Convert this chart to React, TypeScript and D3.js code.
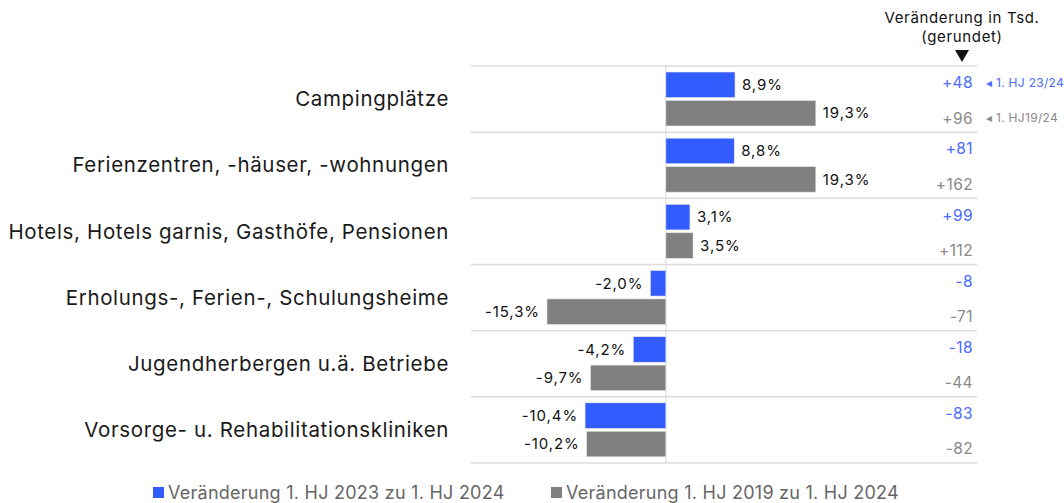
import React from "react";
import * as d3 from "d3";

const categories = [
  "Campingplätze",
  "Ferienzentren, -häuser, -wohnungen",
  "Hotels, Hotels garnis, Gasthöfe, Pensionen",
  "Erholungs-, Ferien-, Schulungsheime",
  "Jugendherbergen u.ä. Betriebe",
  "Vorsorge- u. Rehabilitationskliniken",
];
const pct2324 = [8.9, 8.8, 3.1, -2.0, -4.2, -10.4];
const pct1924 = [19.3, 19.3, 3.5, -15.3, -9.7, -10.2];
const abs2324 = ["+48", "+81", "+99", "-8", "-18", "-83"];
const abs1924 = ["+96", "+162", "+112", "-71", "-44", "-82"];
const seriesKeys = ["2324", "1924"];
const seriesNames = ["Veränderung 1. HJ 2023 zu 1. HJ 2024", "Veränderung 1. HJ 2019 zu 1. HJ 2024"];
const seriesTags = ["1. HJ 23/24", "1. HJ19/24"];

const BLUE = "#335cff";
const GREY = "#808080";
const FONT = "Inter, 'Noto Sans', sans-serif";

export default function App() {
  const W = 1064, H = 503;
  const x = d3.scaleLinear().domain([-25, 40]).range([471.6, 976.7]);
  const y = d3.scaleBand<string>().domain(categories).range([66, 463]).padding(0);
  const sub = d3.scaleBand<string>().domain(seriesKeys).range([6, 60]).paddingInner(0.1);
  const fmt = (v: number) => d3.format(".1f")(v).replace(".", ",").replace("\u2212", "-") + "%";
  const colors = [BLUE, GREY];
  const pcts = [pct2324, pct1924];
  const abss = [abs2324, abs1924];

  return (
    <svg width={W} height={H} style={{ position: "absolute", left: 0, top: 0, fontFamily: FONT }}>
      {/* header */}
      <text x={962} y={18} dy="0.35em" textAnchor="middle" fontSize={15} letterSpacing={0.65} fill="#111">Veränderung in Tsd.</text>
      <text x={962} y={37} dy="0.35em" textAnchor="middle" fontSize={15} letterSpacing={0.65} fill="#111">(gerundet)</text>
      <path d="M955,50 L969,50 L962,62 Z" fill="#111" />

      {/* grid lines */}
      {y.domain().concat(["__end"]).map((c, i) => {
        const yy = i < categories.length ? (y(c) as number) : 463;
        return <line key={"g" + i} x1={471} x2={977} y1={yy} y2={yy} stroke="#dcdcdc" strokeWidth={1.5} />;
      })}
      <line x1={x(0)} x2={x(0)} y1={66} y2={463} stroke="#d6d6d6" strokeWidth={1} />

      {categories.map((c, i) => {
        const y0 = y(c) as number;
        return (
          <g key={c}>
            <text x={449} y={y0 + y.bandwidth() / 2} dy="0.35em" textAnchor="end" fontSize={20.5} letterSpacing={0.65} fill="#1a1a1a">{c}</text>
            {seriesKeys.map((k, s) => {
              const v = pcts[s][i];
              const by = y0 + (sub(k) as number);
              const bh = sub.bandwidth();
              const x0 = x(Math.min(0, v));
              const x1 = x(Math.max(0, v));
              return (
                <g key={k}>
                  <rect x={x0} y={by} width={x1 - x0} height={bh} fill={colors[s]} stroke="#e8e8e8" strokeWidth={0.6} />
                  <text
                    x={v >= 0 ? x1 + 7 : x0 - 7}
                    y={by + bh / 2}
                    dy="0.35em"
                    textAnchor={v >= 0 ? "start" : "end"}
                    fontSize={15}
                    letterSpacing={0.9}
                    fill="#111"
                  >{fmt(v)}</text>
                  <text
                    x={973}
                    y={by + bh / 2 + (s === 0 ? -2 : 5)}
                    dy="0.35em"
                    textAnchor="end"
                    fontSize={15.5}
                    letterSpacing={0.4}
                    fill={s === 0 ? "#4a6bff" : "#8a8a8a"}
                  >{abss[s][i]}</text>
                  {i === 0 && (
                    <text x={986} y={by + bh / 2 + (s === 0 ? -2 : 5)} dy="0.35em" fontSize={12} letterSpacing={0.3} fill={s === 0 ? "#4a6bff" : "#8a8a8a"}>
                      {"◂ " + seriesTags[s]}
                    </text>
                  )}
                </g>
              );
            })}
          </g>
        );
      })}

      {/* legend */}
      {seriesNames.map((n, s) => {
        const lx = s === 0 ? 153 : 551;
        return (
          <g key={n}>
            <rect x={lx} y={487} width={11} height={11} fill={colors[s]} />
            <text x={lx + 15} y={493} dy="0.35em" fontSize={18} letterSpacing={0.25} fill="#666">{n}</text>
          </g>
        );
      })}
    </svg>
  );
}
